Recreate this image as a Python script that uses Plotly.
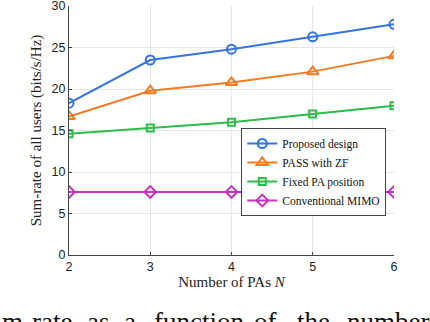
import plotly.graph_objects as go

# data
num_pas = [2, 3, 4, 5, 6]
proposed = [18.3, 23.5, 24.8, 26.3, 27.8]
pass_zf = [16.7, 19.8, 20.8, 22.1, 24.0]
fixed_pa = [14.6, 15.3, 16.0, 17.0, 18.0]
conv_mimo = [7.6, 7.6, 7.6, 7.6, 7.6]
y_ticks = [0, 5, 10, 15, 20, 25, 30]

# caption fragment visible under the figure, word by word with its left edge (px)
caption_words = ["m-rate", "as", "a", "function", "of", "the", "number"]
caption_left_px = [0, 85, 122, 152, 252, 295, 345]

series = [
    ("Proposed design", proposed, "#3473e0", "circle-open", 9),
    ("PASS with ZF", pass_zf, "#f07a22", "triangle-up-open", 10),
    ("Fixed PA position", fixed_pa, "#2dbb4a", "square-open", 7),
    ("Conventional MIMO", conv_mimo, "#c832c0", "diamond-open", 9),
]

W, H = 430, 322
L, R, T, B = 69, 36, 6, 67

fig = go.Figure()
for name, vals, color, sym, sz in series:
    fig.add_trace(go.Scatter(
        x=num_pas, y=vals, name=name, mode="lines+markers",
        line=dict(color=color, width=2),
        marker=dict(symbol=sym, size=sz, color=color, line=dict(width=2, color=color)),
    ))

serif = "Liberation Serif, Times New Roman, serif"
sans = "Liberation Sans, Arial, sans-serif"

fig.update_xaxes(
    range=[2, 6.001], tickvals=num_pas, showgrid=True, gridcolor="#e6e6e6",
    showline=True, linecolor="#444", linewidth=1, ticks="inside", ticklen=3,
    tickcolor="#444", tickfont=dict(family=sans, size=12.5, color="#222"),
    title=dict(text="Number of PAs <i>N</i>", font=dict(family=serif, size=15, color="#222"), standoff=2),
    zeroline=False, automargin=False, ticklabeloverflow="allow",
)
fig.update_yaxes(
    range=[0, 30.01], tickvals=y_ticks, showgrid=True, gridcolor="#e6e6e6",
    showline=True, linecolor="#444", linewidth=1, ticks="inside", ticklen=3,
    tickcolor="#444", tickfont=dict(family=sans, size=12.5, color="#222"),
    title=dict(text="Sum-rate of all users (bits/s/Hz)", font=dict(family=serif, size=15, color="#222"), standoff=6),
    zeroline=False, automargin=False, ticklabeloverflow="allow",
)

pw, ph = W - L - R, H - T - B
for word, px in zip(caption_words, caption_left_px):
    fig.add_annotation(
        text=word, xref="paper", yref="paper",
        x=(px - L) / pw, y=(H - B - 305) / ph, xanchor="left", yanchor="top",
        showarrow=False, font=dict(family=serif, size=27, color="#111"),
    )

fig.update_layout(
    width=W, height=H,
    margin=dict(l=L, r=R, t=T, b=B),
    plot_bgcolor="white", paper_bgcolor="white",
    legend=dict(
        x=0.53, y=0.51, xanchor="left", yanchor="top",
        bgcolor="white", bordercolor="#444", borderwidth=1,
        font=dict(family=serif, size=11.5, color="#111"),
        tracegroupgap=0, itemwidth=30,
    ),
)

fig.write_html(
    "out.html",
    config={"displayModeBar": False},
    post_script="document.body.style.margin='0';document.body.style.overflow='hidden';",
)
